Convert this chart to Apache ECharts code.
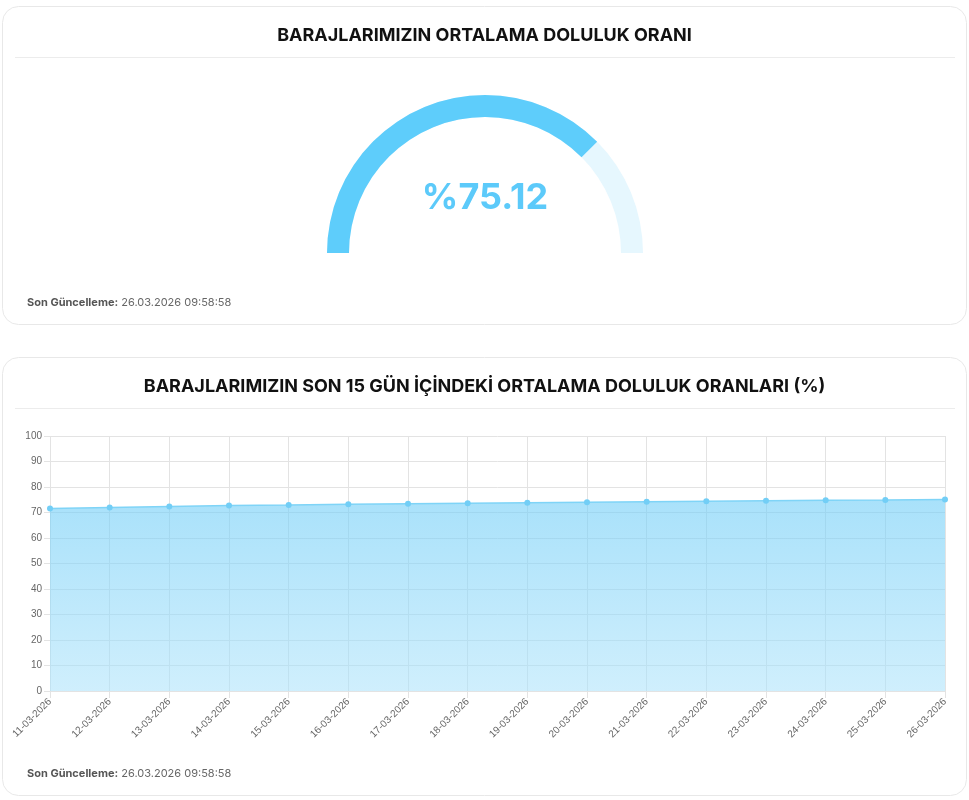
<!DOCTYPE html>
<html>
<head>
<meta charset="utf-8">
<script src="https://cdn.jsdelivr.net/npm/echarts@6/dist/echarts.min.js"></script>
<style>
html,body{margin:0;padding:0;background:#fff;}
#c{width:969px;height:800px;}
</style>
</head>
<body>
<div id="c"></div>
<script>
const gaugeTitle = 'BARAJLARIMIZIN ORTALAMA DOLULUK ORANI';
const lineTitle = 'BARAJLARIMIZIN SON 15 GÜN İÇİNDEKİ ORTALAMA DOLULUK ORANLARI (%)';
const gaugeValue = 75.12;
const updateLabel = 'Son Güncelleme:';
const updateTime = '26.03.2026 09:58:58';
const dates = ['11-03-2026','12-03-2026','13-03-2026','14-03-2026','15-03-2026','16-03-2026','17-03-2026','18-03-2026','19-03-2026','20-03-2026','21-03-2026','22-03-2026','23-03-2026','24-03-2026','25-03-2026','26-03-2026'];
const fillRates = [71.6, 72.0, 72.4, 72.7, 72.9, 73.2, 73.4, 73.6, 73.8, 74.0, 74.2, 74.4, 74.6, 74.8, 74.95, 75.12];
const yTicks = [0, 100, 10];

const chart = echarts.init(document.getElementById('c'), null, {renderer: 'canvas'});
const FONT = 'Inter, "Noto Sans", sans-serif';
function footer(y){
  return {type:'text', left:27, top:y, z:10, style:{
    text:'{b|' + updateLabel + '} ' + updateTime,
    font:'11px ' + FONT, fill:'#666',
    rich:{b:{fontWeight:'bold', fill:'#555', fontSize:11, fontFamily:FONT}}
  }};
}
chart.setOption({
  animation:false,
  title:[
    {text:gaugeTitle, left:'center', top:22, textStyle:{fontFamily:FONT, fontSize:18, fontWeight:'bold', color:'#111'}},
    {text:lineTitle, left:'center', top:373, textStyle:{fontFamily:FONT, fontSize:18, fontWeight:'bold', color:'#111'}}
  ],
  graphic:[
    {type:'rect', z:-10, shape:{x:2.5, y:6.5, width:964, height:318, r:16}, style:{fill:'#fff', stroke:'#e8e8e8', lineWidth:1}},
    {type:'rect', z:-10, shape:{x:2.5, y:357.5, width:964, height:438, r:16}, style:{fill:'#fff', stroke:'#e8e8e8', lineWidth:1}},
    {type:'line', z:-9, shape:{x1:15, y1:57.5, x2:955, y2:57.5}, style:{stroke:'#ececec', lineWidth:1}},
    {type:'line', z:-9, shape:{x1:15, y1:408.5, x2:955, y2:408.5}, style:{stroke:'#ececec', lineWidth:1}},
    footer(297),
    footer(768)
  ],
  grid:{left:50, right:24, top:436, bottom:109},
  xAxis:{type:'category', data:dates, boundaryGap:false,
    axisLine:{show:true, lineStyle:{color:'#e3e3e3'}},
    axisTick:{show:true, length:7, lineStyle:{color:'#e3e3e3'}},
    splitLine:{show:true, lineStyle:{color:'#e3e3e3'}},
    axisLabel:{rotate:45, fontSize:10, color:'#666', fontFamily:'"Liberation Sans", Arial, sans-serif', margin:9, interval:0}},
  yAxis:{type:'value', min:yTicks[0], max:yTicks[1], interval:yTicks[2],
    axisLine:{show:false},
    axisTick:{show:true, length:6, lineStyle:{color:'#e3e3e3'}},
    splitLine:{show:true, lineStyle:{color:'#e3e3e3'}},
    axisLabel:{fontSize:10, color:'#666', fontFamily:'"Liberation Sans", Arial, sans-serif', margin:8}},
  series:[
    {type:'gauge', center:[485,253], radius:158, startAngle:180, endAngle:0, min:0, max:100,
      progress:{show:true, width:22, itemStyle:{color:'#5ecdfb'}},
      axisLine:{lineStyle:{width:22, color:[[1,'#e6f7fe']]}},
      pointer:{show:false}, axisTick:{show:false}, splitLine:{show:false}, axisLabel:{show:false},
      anchor:{show:false}, title:{show:false},
      detail:{show:true, offsetCenter:[0,-55], fontSize:36, fontWeight:'bold', color:'#5ccafa', fontFamily:FONT,
        formatter:function(v){return '%' + v.toFixed(2);}},
      data:[{value:gaugeValue}]},
    {type:'line', data:fillRates, symbol:'circle', symbolSize:6, showSymbol:true,
      lineStyle:{color:'#7fd4f7', width:1.5},
      itemStyle:{color:'#72cef6'},
      areaStyle:{color:new echarts.graphic.LinearGradient(0,0,0,1,[{offset:0,color:'rgba(110,205,247,0.85)'},{offset:1,color:'rgba(170,226,251,0.8)'}])},
      z:1}
  ]
});
</script>
</body>
</html>
